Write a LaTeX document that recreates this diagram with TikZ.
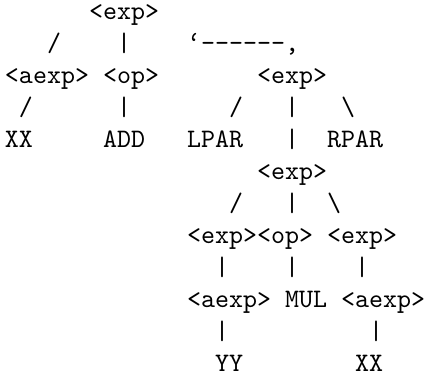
\documentclass[tikz,border=0pt]{standalone}
\begin{document}
\begin{tikzpicture}[
  tt/.style={font=\ttfamily, inner sep=0pt, outer sep=0pt, anchor=base west},
  x=5.25pt, y=12pt]
\useasboundingbox (-0.357,-11.06) rectangle (30.14,0.595);
\newcommand\tk[4]{\node[tt] (#1) at (#2,-#3) {#4};}
\newcommand\dsh{-\kern0pt}
% row 0
\tk{e1}{6}{0}{<exp>}
% row 1
\tk{s1}{3}{1}{/}
\tk{b1}{8}{1}{|}
\tk{q1}{13}{1}{‘\dsh\dsh\dsh\dsh\dsh\dsh,}
% row 2
\tk{a1}{0}{2}{<aexp>}
\tk{o1}{7}{2}{<op>}
\tk{e2}{18}{2}{<exp>}
% row 3
\tk{s2}{1}{3}{/}
\tk{b2}{8}{3}{|}
\tk{s3}{16}{3}{/}
\tk{b3}{20}{3}{|}
\tk{k1}{24}{3}{\textbackslash}
% row 4
\tk{x1}{0}{4}{XX}
\tk{add}{7}{4}{ADD}
\tk{lp}{13}{4}{LPAR}
\tk{b4}{20}{4}{|}
\tk{rp}{23}{4}{RPAR}
% row 5
\tk{e3}{18}{5}{<exp>}
% row 6
\tk{s4}{16}{6}{/}
\tk{b5}{20}{6}{|}
\tk{k2}{23}{6}{\textbackslash}
% row 7
\tk{e4}{13}{7}{<exp>}
\tk{o2}{18}{7}{<op>}
\tk{e5}{23}{7}{<exp>}
% row 8
\tk{b6}{15}{8}{|}
\tk{b7}{20}{8}{|}
\tk{b8}{25}{8}{|}
% row 9
\tk{a2}{13}{9}{<aexp>}
\tk{mul}{20}{9}{MUL}
\tk{a3}{24}{9}{<aexp>}
% row 10
\tk{b9}{15}{10}{|}
\tk{b10}{26}{10}{|}
% row 11
\tk{yy}{15}{11}{YY}
\tk{x2}{25}{11}{XX}
\end{tikzpicture}
\end{document}
